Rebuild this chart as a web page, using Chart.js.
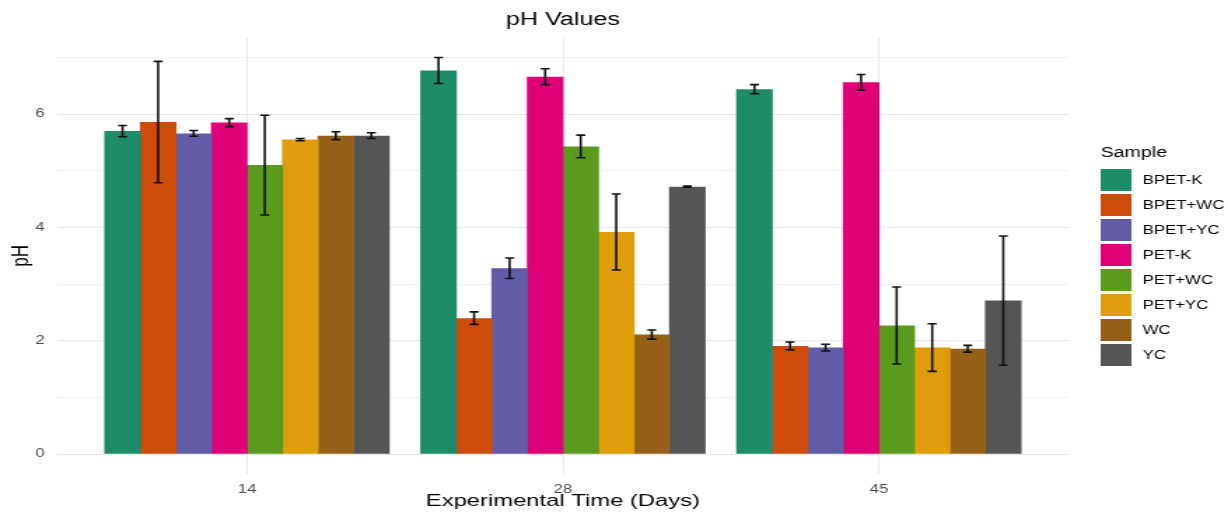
<!DOCTYPE html>
<html>
<head>
<meta charset="utf-8">
<title>pH Values</title>
<script src="https://cdn.jsdelivr.net/npm/chart.js@4.4.1/dist/chart.umd.min.js"></script>
<style>
  html, body { margin: 0; padding: 0; background: #fff; overflow: hidden; }
  /* the reference is a horizontally stretched ggplot export, so draw narrow and stretch */
  #wrap { width: 877px; height: 512px; transform: scaleX(1.4003); transform-origin: 0 0; }
</style>
</head>
<body>
<div id="wrap"><canvas id="chart" width="877" height="512"></canvas></div>
<script>
// ----- data -----
const categories = ['14', '28', '45']
const samples = ['BPET-K', 'BPET+WC', 'BPET+YC', 'PET-K', 'PET+WC', 'PET+YC', 'WC', 'YC']
const colors = ['#1E8C68', '#CF4B0A', '#625CA6', '#DF0078', '#5A9A1C', '#E09D0B', '#956119', '#555555']

const bpetK = [5.70, 6.77, 6.44]
const bpetWC = [5.86, 2.40, 1.91]
const bpetYC = [5.66, 3.28, 1.88]
const petK = [5.85, 6.66, 6.56]
const petWC = [5.10, 5.43, 2.27]
const petYC = [5.55, 3.92, 1.88]
const wc = [5.62, 2.11, 1.86]
const yc = [5.62, 4.72, 2.71]

const bpetKErr = [0.10, 0.23, 0.08]
const bpetWCErr = [1.07, 0.11, 0.07]
const bpetYCErr = [0.05, 0.18, 0.06]
const petKErr = [0.07, 0.14, 0.14]
const petWCErr = [0.88, 0.20, 0.68]
const petYCErr = [0.02, 0.67, 0.42]
const wcErr = [0.07, 0.08, 0.06]
const ycErr = [0.05, 0.01, 1.14]

const yTicks = [0, 1, 2, 3, 4, 5, 6, 7]

const means = [bpetK, bpetWC, bpetYC, petK, petWC, petYC, wc, yc]
const errs = [bpetKErr, bpetWCErr, bpetYCErr, petKErr, petWCErr, petYCErr, wcErr, ycErr]

const FONT = "'Liberation Sans', Arial, Helvetica, sans-serif"
Chart.defaults.font.family = FONT

// ----- plugins -----
// error bars drawn from each bar's own x and the y scale
const errorBars = {
  id: 'errorBars',
  afterDatasetsDraw(chart) {
    const { ctx } = chart
    const y = chart.scales.y
    ctx.save()
    ctx.strokeStyle = '#111'
    ctx.lineWidth = 1.6
    chart.data.datasets.forEach((ds, di) => {
      const meta = chart.getDatasetMeta(di)
      meta.data.forEach((bar, i) => {
        const m = ds.data[i].y
        const e = ds.errors[i]
        const top = y.getPixelForValue(m + e)
        const bot = y.getPixelForValue(m - e)
        const half = 3.2
        ctx.beginPath()
        ctx.moveTo(bar.x, top); ctx.lineTo(bar.x, bot)
        ctx.moveTo(bar.x - half, top); ctx.lineTo(bar.x + half, top)
        ctx.moveTo(bar.x - half, bot); ctx.lineTo(bar.x + half, bot)
        ctx.stroke()
      })
    })
    ctx.restore()
  },
}

// ggplot-like legend on the right
const sideLegend = {
  id: 'sideLegend',
  afterDraw(chart) {
    const { ctx } = chart
    const x0 = 786
    ctx.save()
    ctx.textBaseline = 'middle'
    ctx.textAlign = 'left'
    ctx.fillStyle = '#000'
    ctx.font = `14px ${FONT}`
    ctx.fillText('Sample', x0, 153)
    ctx.font = `12px ${FONT}`
    chart.data.datasets.forEach((ds, i) => {
      const top = 169 + i * 25
      ctx.fillStyle = ds.backgroundColor
      ctx.fillRect(x0, top, 22, 22)
      ctx.fillStyle = '#000'
      ctx.fillText(ds.label, 816, top + 11.5)
    })
    ctx.restore()
  },
}

// ----- chart -----
const datasets = samples.map((name, s) => ({
  label: name,
  data: categories.map((c, i) => ({ x: i + 1, y: means[s][i] })),
  errors: errs[s],
  backgroundColor: colors[s],
  borderWidth: 0,
  categoryPercentage: 0.9,
  barPercentage: 1.03, // slight overlap, no seams between dodged bars
}))

new Chart(document.getElementById('chart'), {
  type: 'bar',
  data: { datasets },
  options: {
    responsive: false,
    maintainAspectRatio: false,
    animation: false,
    devicePixelRatio: 1,
    layout: { padding: { left: 0, right: 114, top: 0, bottom: 0 } },
    plugins: {
      legend: { display: false },
      tooltip: { enabled: false },
      title: {
        display: true,
        fullSize: false,
        text: 'pH Values',
        color: '#000',
        font: { size: 18, weight: 'normal' },
        padding: { top: 9, bottom: 7 },
      },
    },
    scales: {
      x: {
        type: 'linear',
        min: 0.4,
        max: 3.6,
        offset: false,
        afterBuildTicks: (scale) => { scale.ticks = categories.map((c, i) => ({ value: i + 1 })) },
        afterFit: (scale) => { scale.height = 38 },
        ticks: {
          callback: (v) => categories[v - 1] ?? '',
          color: '#4d4d4d',
          font: { size: 12 },
          padding: 8,
          maxRotation: 0,
        },
        grid: { color: '#e8e8e8', lineWidth: 1, drawTicks: false, offset: false },
        border: { display: false },
        title: {
          display: true,
          text: 'Experimental Time (Days)',
          color: '#000',
          font: { size: 17 },
          padding: { top: 0, bottom: 0 },
        },
      },
      y: {
        min: -0.35,
        max: 7.35,
        afterBuildTicks: (scale) => { scale.ticks = yTicks.map((v) => ({ value: v })) },
        afterFit: (scale) => { scale.width = 41 },
        ticks: {
          callback: (v) => (v % 2 === 0 ? String(v) : ''),
          color: '#4d4d4d',
          font: { size: 12 },
          padding: 9,
        },
        grid: {
          color: (c) => (c.tick && c.tick.value % 2 === 0 ? '#e6e6e6' : '#f0f0f0'),
          lineWidth: 1,
          drawTicks: false,
        },
        border: { display: false },
        title: {
          display: true,
          text: 'pH',
          color: '#000',
          font: { size: 17 },
          padding: { top: 5, bottom: 0 },
        },
      },
    },
  },
  plugins: [errorBars, sideLegend],
})
</script>
</body>
</html>
